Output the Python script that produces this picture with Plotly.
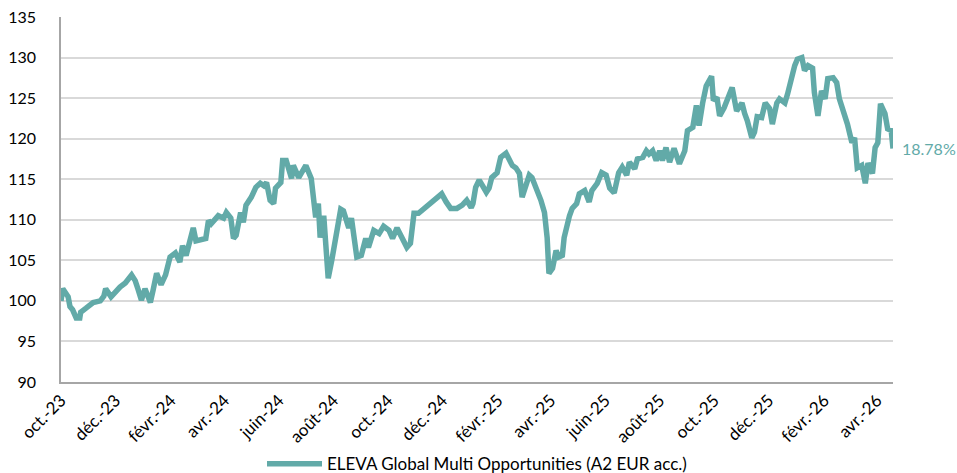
import plotly.graph_objects as go

dates = [
    "2023-10-01", "2023-10-03", "2023-10-09", "2023-10-11", "2023-10-14", "2023-10-18", "2023-10-22", "2023-10-23",
    "2023-10-29", "2023-11-06", "2023-11-14", "2023-11-18", "2023-11-20", "2023-11-26", "2023-12-06", "2023-12-12",
    "2023-12-19", "2023-12-23", "2023-12-26", "2023-12-30", "2024-01-03", "2024-01-09", "2024-01-12", "2024-01-16",
    "2024-01-21", "2024-01-26", "2024-01-31", "2024-02-06", "2024-02-11", "2024-02-14", "2024-02-18", "2024-02-23",
    "2024-02-26", "2024-02-29", "2024-03-05", "2024-03-11", "2024-03-14", "2024-03-17", "2024-03-25", "2024-03-31",
    "2024-04-03", "2024-04-08", "2024-04-11", "2024-04-14", "2024-04-19", "2024-04-22", "2024-04-25", "2024-05-01",
    "2024-05-06", "2024-05-11", "2024-05-15", "2024-05-18", "2024-05-22", "2024-05-26", "2024-05-28", "2024-06-03",
    "2024-06-05", "2024-06-09", "2024-06-15", "2024-06-17", "2024-06-23", "2024-07-01", "2024-07-07", "2024-07-12",
    "2024-07-15", "2024-07-17", "2024-07-21", "2024-07-26", "2024-07-30", "2024-08-02", "2024-08-09", "2024-08-12",
    "2024-08-18", "2024-08-21", "2024-08-27", "2024-09-01", "2024-09-06", "2024-09-09", "2024-09-15", "2024-09-21",
    "2024-09-26", "2024-10-02", "2024-10-06", "2024-10-11", "2024-10-16", "2024-10-22", "2024-10-26", "2024-10-30",
    "2024-11-04", "2024-11-12", "2024-11-18", "2024-11-21", "2024-11-27", "2024-11-30", "2024-12-05", "2024-12-10",
    "2024-12-17", "2024-12-23", "2024-12-28", "2025-01-02", "2025-01-04", "2025-01-07", "2025-01-11", "2025-01-14",
    "2025-01-19", "2025-01-22", "2025-01-25", "2025-01-31", "2025-02-04", "2025-02-10", "2025-02-13", "2025-02-17",
    "2025-02-21", "2025-02-25", "2025-02-28", "2025-03-04", "2025-03-08", "2025-03-11", "2025-03-16", "2025-03-21",
    "2025-03-25", "2025-03-28", "2025-03-30", "2025-04-03", "2025-04-07", "2025-04-10", "2025-04-14", "2025-04-16",
    "2025-04-22", "2025-04-25", "2025-04-30", "2025-05-03", "2025-05-09", "2025-05-14", "2025-05-17", "2025-05-23",
    "2025-05-28", "2025-06-02", "2025-06-06", "2025-06-11", "2025-06-16", "2025-06-20", "2025-06-25", "2025-06-28",
    "2025-07-04", "2025-07-07", "2025-07-13", "2025-07-17", "2025-07-20", "2025-07-24", "2025-07-28", "2025-08-01",
    "2025-08-04", "2025-08-08", "2025-08-12", "2025-08-17", "2025-08-23", "2025-08-29", "2025-09-01", "2025-09-07",
    "2025-09-11", "2025-09-14", "2025-09-18", "2025-09-22", "2025-09-28", "2025-09-30", "2025-10-04", "2025-10-07",
    "2025-10-12", "2025-10-18", "2025-10-21", "2025-10-26", "2025-11-01", "2025-11-04", "2025-11-07", "2025-11-12",
    "2025-11-15", "2025-11-18", "2025-11-23", "2025-11-27", "2025-12-02", "2025-12-05", "2025-12-10", "2025-12-13",
    "2025-12-19", "2025-12-22", "2025-12-27", "2025-12-30", "2026-01-02", "2026-01-07", "2026-01-10", "2026-01-14",
    "2026-01-19", "2026-01-21", "2026-01-25", "2026-01-29", "2026-02-02", "2026-02-05", "2026-02-11", "2026-02-15",
    "2026-02-18", "2026-02-22", "2026-02-27", "2026-03-04", "2026-03-07", "2026-03-10", "2026-03-15", "2026-03-19",
    "2026-03-22", "2026-03-27", "2026-03-30", "2026-04-02", "2026-04-05", "2026-04-10", "2026-04-13", "2026-04-17",
    "2026-04-19",
]

values = [
    100.0, 101.5, 100.5, 99.3, 98.9, 97.9, 97.9, 98.6,
    99.1, 99.8, 100.0, 100.6, 101.5, 100.5, 101.7, 102.2,
    103.2, 102.5, 101.5, 100.1, 101.5, 99.8, 101.3, 103.4,
    102.0, 103.2, 105.4, 105.9, 104.8, 106.8, 105.6, 108.0,
    109.0, 107.4, 107.5, 107.7, 109.9, 109.5, 110.5, 110.2,
    110.9, 110.2, 107.7, 108.1, 110.9, 109.7, 111.8, 112.8,
    114.0, 114.5, 114.2, 114.6, 112.4, 112.0, 113.9, 114.6,
    117.3, 117.3, 115.1, 116.7, 115.2, 116.7, 115.1, 110.3,
    112.0, 107.8, 110.5, 102.8, 105.0, 107.0, 111.3, 111.1,
    109.0, 110.2, 105.4, 105.6, 107.7, 106.6, 108.7, 108.3,
    109.2, 108.7, 107.7, 109.0, 107.8, 106.6, 107.1, 110.8,
    110.8, 111.5, 112.0, 112.2, 112.8, 113.2, 112.2, 111.4,
    111.4, 111.8, 112.4, 111.5, 112.0, 114.0, 114.9, 114.2,
    113.4, 113.9, 115.2, 115.8, 117.7, 118.2, 117.5, 116.7,
    116.4, 115.7, 112.8, 114.0, 115.5, 115.2, 114.0, 112.4,
    110.9, 107.8, 103.4, 104.0, 106.2, 105.4, 105.6, 107.8,
    110.5, 111.4, 112.0, 113.2, 113.6, 112.2, 113.6, 114.5,
    115.8, 115.5, 113.9, 113.3, 115.8, 116.5, 115.5, 117.1,
    116.3, 117.5, 117.7, 118.5, 118.1, 118.5, 117.3, 118.5,
    117.3, 118.9, 117.1, 118.8, 116.9, 118.5, 121.0, 121.4,
    124.1, 121.6, 124.4, 126.5, 127.7, 124.7, 125.1, 122.8,
    123.8, 125.3, 126.3, 123.4, 124.4, 123.1, 122.2, 120.1,
    120.8, 122.7, 122.6, 124.4, 123.7, 121.8, 124.4, 124.9,
    124.4, 125.5, 128.1, 129.0, 129.8, 130.0, 128.4, 129.0,
    128.7, 125.7, 122.8, 125.9, 124.9, 127.4, 127.5, 126.9,
    124.9, 123.7, 121.8, 119.5, 120.1, 116.4, 116.7, 114.5,
    117.0, 115.7, 118.9, 119.5, 124.3, 123.1, 121.2, 121.0,
    118.78,
]

series_name = "ELEVA Global Multi Opportunities (A2 EUR acc.)"
end_label = "18.78%"

tick_dates = [
    "2023-10-01", "2023-12-01", "2024-02-01", "2024-04-01", "2024-06-01", "2024-08-01",
    "2024-10-01", "2024-12-01", "2025-02-01", "2025-04-01", "2025-06-01", "2025-08-01",
    "2025-10-01", "2025-12-01", "2026-02-01", "2026-04-01",
]
tick_labels = [
    "oct.-23", "déc.-23", "févr.-24", "avr.-24", "juin-24", "août-24",
    "oct.-24", "déc.-24", "févr.-25", "avr.-25", "juin-25", "août-25",
    "oct.-25", "déc.-25", "févr.-26", "avr.-26",
]

LINE = "#62AAA8"
FONT = "Lato"

fig = go.Figure()
fig.add_trace(go.Scatter(
    x=dates, y=values, mode="lines", name=series_name,
    line=dict(color=LINE, width=5.5, shape="linear"),
    showlegend=True,
))

fig.add_annotation(
    x=dates[-1], y=values[-1], text=end_label, showarrow=False,
    xanchor="left", yanchor="middle", xshift=7,
    font=dict(family=FONT, size=16, color=LINE),
)

fig.update_layout(
    width=957, height=473,
    margin=dict(l=61, r=64, t=17, b=91, autoexpand=False),
    paper_bgcolor="white", plot_bgcolor="white",
    font=dict(family=FONT, size=16, color="#000000"),
    showlegend=True,
    legend=dict(
        orientation="h", x=0.5, xanchor="center", y=-0.225, yanchor="middle",
        font=dict(family=FONT, size=17, color="#000000"),
        itemwidth=55, bgcolor="rgba(0,0,0,0)",
    ),
)

fig.update_xaxes(
    type="date", automargin=False,
    range=[dates[0], dates[-1]],
    tickmode="array", tickvals=tick_dates, ticktext=tick_labels,
    tickangle=-45, tickfont=dict(family=FONT, size=17, color="#000000"),
    showgrid=False, zeroline=False,
    showline=True, linecolor="#A6A6A6", linewidth=1.5,
    ticks="", ticklabelstandoff=0,
)

fig.update_yaxes(
    range=[90, 135], dtick=5, tick0=90, automargin=False,
    tickfont=dict(family=FONT, size=16, color="#000000"),
    showgrid=True, gridcolor="#D9D9D9", gridwidth=1.5,
    zeroline=False,
    showline=True, linecolor="#A6A6A6", linewidth=1.5,
    ticks="", ticklabelstandoff=20,
)

fig.write_html(
    "out.html",
    config={"displayModeBar": False},
    post_script="document.body.style.margin='0';document.body.style.overflow='hidden';",
)
